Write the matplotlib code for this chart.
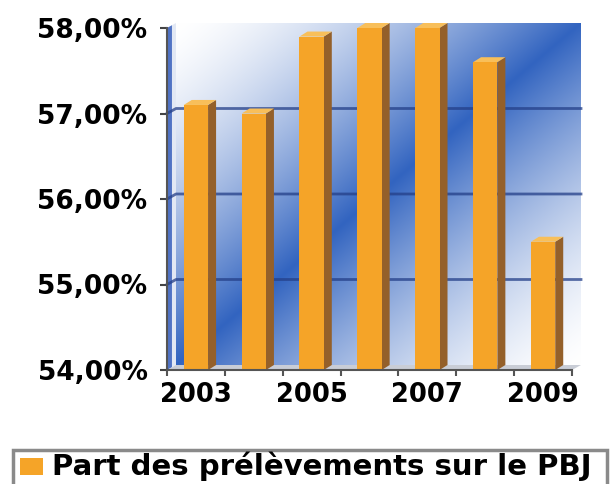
import numpy as np
import matplotlib.pyplot as plt
from matplotlib.patches import Polygon, Rectangle

# data
years = ['2003', '2004', '2005', '2006', '2007', '2008', '2009']
part_pbj = [57.1, 57.0, 57.9, 58.0, 58.0, 57.6, 55.5]
y_ticks = [54, 55, 56, 57, 58]
shown_years = ['2003', '2005', '2007', '2009']
legend_label = 'Part des prélèvements sur le PBJ'

orange = '#f5a428'
orange_side = '#94602a'
orange_top = '#f8bf5a'
blue = np.array([50, 100, 192]) / 255

W, H = 611, 484
fig = plt.figure(figsize=(W / 100, H / 100), dpi=100)
ax = fig.add_axes([167 / W, 114 / H, 405 / W, 342 / H])

ymin, ymax = y_ticks[0], y_ticks[-1]
x = np.arange(len(years))
x0, x1 = -0.5, len(years) - 0.5

# depth of the fake 3d box (pixels -> data units)
px_x = 405 / len(years)
px_y = 342 / (ymax - ymin)
wx, wy = 9 / px_x, 5 / px_y

# back wall: diagonal white -> blue -> white gradient
n = 300
u = np.linspace(0, 1, n)[None, :]
t = np.linspace(0, 1, n)[:, None]
d = (u + t) / 2
w = np.clip(1 - np.abs(2 * d - 1), 0, 1) ** 1.5
img = (1 - w)[..., None] * np.ones(3) + w[..., None] * blue
ax.imshow(img, extent=(x0 + wx, x1 + wx, ymin + wy, ymax + wy), aspect='auto',
          zorder=0, clip_on=False, interpolation='bilinear')

# left wall (light with a blue stripe) and floor
ax.add_patch(Polygon([(x0, ymin), (x0 + wx, ymin + wy), (x0 + wx, ymax + wy), (x0, ymax)],
                     fc='#e2e8f4', ec='none', zorder=1, clip_on=False))
ax.add_patch(Polygon([(x0, ymin), (x0 + 0.55 * wx, ymin + 0.55 * wy),
                      (x0 + 0.55 * wx, ymax + 0.55 * wy), (x0, ymax)],
                     fc='#5073c4', ec='none', zorder=1, clip_on=False))
ax.add_patch(Polygon([(x0, ymin), (x1, ymin), (x1 + wx, ymin + wy), (x0 + wx, ymin + wy)],
                     fc='#c9cdd6', ec='none', zorder=1, clip_on=False))

# grid lines on the walls
for v in y_ticks[1:-1]:
    ax.plot([x0, x0 + wx, x1 + wx], [v, v + wy, v + wy], color='#243f88', lw=2,
            alpha=0.75, zorder=2, clip_on=False)

# bars
bw = 0.42
bdx, bdy = 8 / px_x, 5 / px_y
heights = [v - ymin for v in part_pbj]
bars = ax.bar(x, heights, bottom=ymin, width=bw, color=orange, zorder=4, clip_on=False)
for xi, v in zip(x, part_pbj):
    r = xi + bw / 2
    l = xi - bw / 2
    ax.add_patch(Polygon([(r, ymin), (r + bdx, ymin + bdy), (r + bdx, v + bdy), (r, v)],
                         fc=orange_side, ec='none', zorder=3, clip_on=False))
    ax.add_patch(Polygon([(l, v), (r, v), (r + bdx, v + bdy), (l + bdx, v + bdy)],
                         fc=orange_top, ec='none', zorder=3, clip_on=False))

ax.set_xlim(x0, x1)
ax.set_ylim(ymin, ymax)

for s in ['top', 'right']:
    ax.spines[s].set_visible(False)
for s in ['left', 'bottom']:
    ax.spines[s].set_color('#555555')
    ax.spines[s].set_linewidth(1.5)
    ax.spines[s].set_zorder(5)

ax.set_yticks(y_ticks)
ax.set_yticklabels([f'{v:.2f}%'.replace('.', ',') for v in y_ticks],
                   fontsize=19, fontweight='bold')
ax.tick_params(axis='y', length=5, width=1.5, color='#444444', pad=9)

ax.set_xticks([years.index(yy) for yy in shown_years])
ax.set_xticklabels(shown_years, fontsize=18.5, fontweight='bold')
ax.set_xticks(np.arange(x0, x1 + 1), minor=True)
ax.tick_params(axis='x', which='major', length=0, pad=9)
ax.tick_params(axis='x', which='minor', length=4, width=1.5, color='#555555')

# legend box at the bottom
fig.patches.append(Rectangle((13 / W, -0.1), (607 - 13) / W, (484 - 450) / H + 0.1,
                             transform=fig.transFigure, fill=False, ec='#8a8a8a', lw=2.5))
fig.patches.append(Rectangle((20 / W, (484 - 475) / H), 23 / W, 17 / H,
                             transform=fig.transFigure, fc=orange, ec='none'))
fig.text(52 / W, (484 - 475) / H, legend_label, fontsize=21, fontweight='bold',
         va='baseline', ha='left')

fig.savefig('out.png', dpi=100)
